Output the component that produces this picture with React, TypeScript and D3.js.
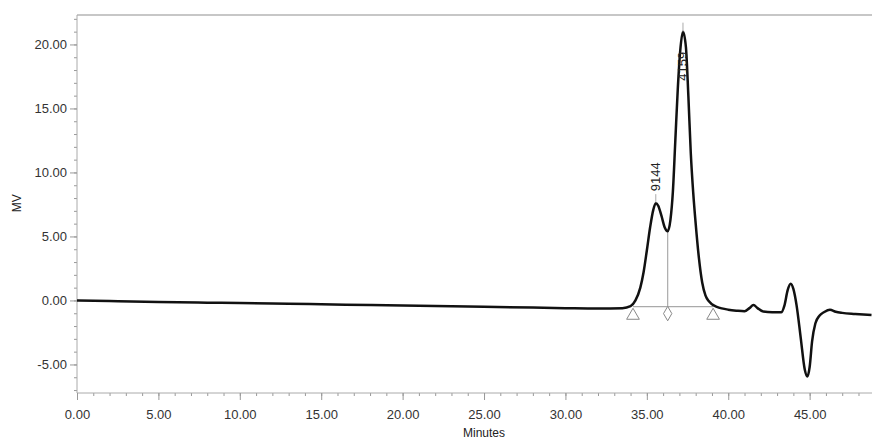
import React, { useEffect, useRef } from 'react'
import * as d3 from 'd3'

// chromatogram trace (minutes, mV)
const minutes = [
  0, 2, 5, 8, 10, 13, 15, 18, 20, 23, 25, 28, 30, 32, 33.5, 34.0, 34.3, 34.6, 34.8, 35.0,
  35.2, 35.4, 35.55, 35.7, 35.9, 36.1, 36.28, 36.45, 36.6, 36.75, 36.9, 37.05, 37.22, 37.4,
  37.55, 37.7, 37.85, 38.0, 38.2, 38.4, 38.6, 38.8, 39.0, 39.3, 39.6, 40.0, 40.5, 41.0, 41.3,
  41.55, 41.8, 42.15, 42.7, 43.25, 43.45, 43.65, 43.84, 44.0, 44.2, 44.45, 44.7, 44.86, 45.0,
  45.15, 45.35, 45.6, 45.9, 46.25, 46.6, 47.0, 47.8, 48.8,
]
const mv = [
  0.0, -0.05, -0.12, -0.17, -0.2, -0.26, -0.3, -0.36, -0.4, -0.46, -0.5, -0.56, -0.6, -0.63, -0.6, -0.45, 0.0, 1.0, 2.2, 3.9,
  5.7, 7.1, 7.6, 7.4, 6.6, 5.7, 5.4, 6.3, 8.5, 12.5, 16.5, 19.5, 21.0, 19.8,
  16.0, 11.5, 8.4, 6.0, 3.3, 1.4, 0.4, -0.05, -0.3, -0.5, -0.62, -0.72, -0.8, -0.85, -0.6,
  -0.35, -0.6, -0.87, -0.93, -0.93, -0.4, 0.8, 1.3, 0.9, -0.4, -2.9, -5.4, -5.95, -5.2,
  -3.2, -1.8, -1.2, -0.9, -0.72, -0.88, -0.97, -1.05, -1.13,
]

// integration marks
const peakNames = ['9144', '4159']
const peakTimes = [35.55, 37.22]
const peakHeights = [7.6, 21.0]
const baselineStart = 34.15
const baselineEnd = 39.07
const baselineLevel = -0.48
const valleyTime = 36.28
const valleyLevel = 5.4

const xTicks = [0, 5, 10, 15, 20, 25, 30, 35, 40, 45]
const yTicks = [-5, 0, 5, 10, 15, 20]

const W = 872
const H = 440
const left = 77
const top = 15
const bottom = 393

const fmt = (d: d3.NumberValue) => d3.format('.2f')(d).replace('−', '-')

export default function App() {
  const ref = useRef<SVGSVGElement>(null)

  useEffect(() => {
    const svg = d3.select(ref.current)
    svg.selectAll('*').remove()

    const x = d3.scaleLinear().domain([0, 48.83]).range([left, W])
    const y = d3.scaleLinear().domain([-7.23, 22.3]).range([bottom, top])
    const font = 'Liberation Sans, Arial, sans-serif'

    // frame
    svg.append('line').attr('x1', left).attr('x2', W).attr('y1', top).attr('y2', top)
      .attr('stroke', '#b5b5b5').attr('stroke-width', 1.5)

    const xAxis = svg.append('g').attr('transform', `translate(0,${bottom})`)
    xAxis.call(d3.axisBottom(x).tickValues(d3.range(0, 49, 1)).tickSize(3).tickFormat(() => ''))
    xAxis.call(g => g.select('.domain').remove())
    xAxis.selectAll('line').attr('stroke', '#999')
    const xMajor = svg.append('g').attr('transform', `translate(0,${bottom})`)
    xMajor.call(d3.axisBottom(x).tickValues(xTicks).tickSize(7).tickPadding(10).tickFormat(fmt))
    xMajor.select('.domain').attr('stroke', '#aaa').attr('d', `M${left},0H${W}`)
    xMajor.selectAll('line').attr('stroke', '#999')
    xMajor.selectAll('text').attr('font-family', font).attr('font-size', 13).attr('fill', '#333')

    const yAxis = svg.append('g').attr('transform', `translate(${left},0)`)
    yAxis.call(d3.axisLeft(y).tickValues(d3.range(-7, 23, 1)).tickSize(3).tickFormat(() => ''))
    yAxis.call(g => g.select('.domain').remove())
    yAxis.selectAll('line').attr('stroke', '#999')
    const yMajor = svg.append('g').attr('transform', `translate(${left},0)`)
    yMajor.call(d3.axisLeft(y).tickValues(yTicks).tickSize(7).tickPadding(3).tickFormat(fmt))
    yMajor.select('.domain').attr('stroke', '#aaa').attr('d', `M0,${top}V${bottom}`)
    yMajor.selectAll('line').attr('stroke', '#999')
    yMajor.selectAll('text').attr('font-family', font).attr('font-size', 13).attr('fill', '#333')

    svg.append('text').attr('x', x(25.0)).attr('y', 437).attr('text-anchor', 'middle')
      .attr('font-family', font).attr('font-size', 12).attr('fill', '#222').text('Minutes')
    svg.append('text').attr('transform', `translate(21,${y(7.6)}) rotate(-90)`).attr('text-anchor', 'middle')
      .attr('font-family', font).attr('font-size', 12).attr('fill', '#222').text('MV')

    // baseline and drop line
    const grey = '#aaa'
    svg.append('line').attr('x1', x(baselineStart)).attr('x2', x(baselineEnd))
      .attr('y1', y(baselineLevel)).attr('y2', y(baselineLevel)).attr('stroke', grey).attr('stroke-width', 1.2)
    svg.append('line').attr('x1', x(valleyTime)).attr('x2', x(valleyTime))
      .attr('y1', y(valleyLevel)).attr('y2', y(baselineLevel)).attr('stroke', grey).attr('stroke-width', 1.2)

    const tri = d3.symbol().type(d3.symbolTriangle).size(70)
    const dia = d3.symbol().type(d3.symbolDiamond).size(60)
    ;[baselineStart, baselineEnd].forEach(t => {
      svg.append('path').attr('d', tri()).attr('transform', `translate(${x(t)},${y(baselineLevel) + 9})`)
        .attr('fill', 'white').attr('stroke', '#888').attr('stroke-width', 1)
    })
    svg.append('path').attr('d', dia()).attr('transform', `translate(${x(valleyTime)},${y(baselineLevel) + 7})`)
      .attr('fill', 'white').attr('stroke', '#888').attr('stroke-width', 1)

    // trace
    const pts = minutes.map((t, i) => [t, mv[i]] as [number, number])
    svg.append('path').datum(pts)
      .attr('d', d3.line().x(d => x(d[0])).y(d => y(d[1])).curve(d3.curveMonotoneX))
      .attr('fill', 'none').attr('stroke', '#111').attr('stroke-width', 2.5)

    // peak labels
    peakNames.forEach((name, i) => {
      const px = x(peakTimes[i])
      const py = y(peakHeights[i])
      if (i === 0) {
        svg.append('line').attr('x1', px).attr('x2', px).attr('y1', py - 1).attr('y2', py - 9)
          .attr('stroke', grey)
        svg.append('text').attr('transform', `translate(${px + 4},${py - 12}) rotate(-90)`)
          .attr('font-family', font).attr('font-size', 13).attr('fill', '#222').text(name)
      } else {
        svg.append('line').attr('x1', px).attr('x2', px).attr('y1', py).attr('y2', py - 9)
          .attr('stroke', grey)
        svg.append('text').attr('transform', `translate(${px + 4},${py + 49}) rotate(-90)`)
          .attr('font-family', font).attr('font-size', 13).attr('fill', '#222').text(name)
      }
    })
  }, [])

  return (
    <svg ref={ref} width={W} height={H} style={{ position: 'absolute', left: 0, top: 0 }} />
  )
}
